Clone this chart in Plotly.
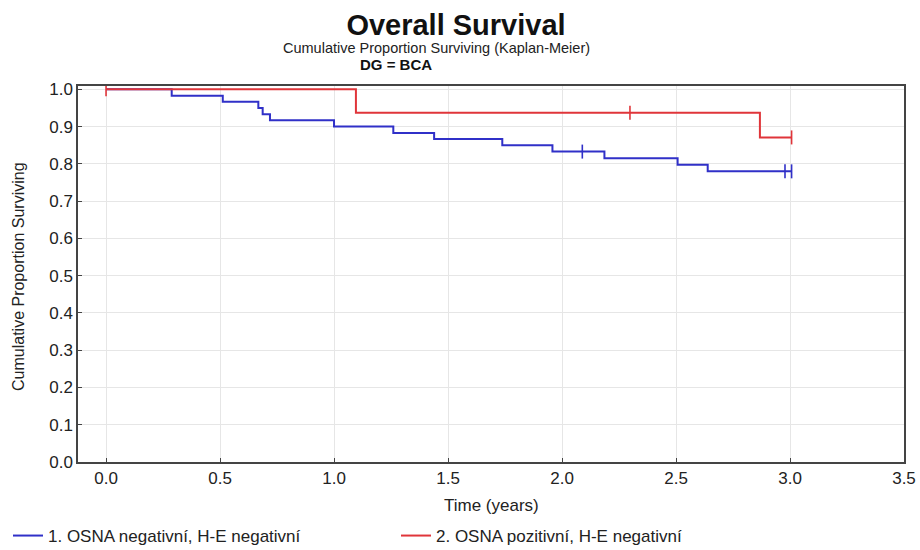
import plotly.graph_objects as go

# Group 1: OSNA negativní, H-E negativní
g1_times = [0.0, 0.288, 0.512, 0.668, 0.687, 0.719, 1.0, 1.26, 1.439, 1.738, 1.958, 2.186, 2.507, 2.639, 3.007]
g1_surv = [1.0, 0.983, 0.967, 0.950, 0.933, 0.917, 0.900, 0.883, 0.867, 0.850, 0.833, 0.815, 0.798, 0.780, 0.780]
g1_cens_t = [2.089, 2.978, 3.007]
g1_cens_s = [0.833, 0.780, 0.780]

# Group 2: OSNA pozitivní, H-E negativní
g2_times = [0.0, 1.096, 2.868, 3.007]
g2_surv = [1.0, 0.9375, 0.871, 0.871]
g2_cens_t = [0.0, 2.298, 3.007]
g2_cens_s = [1.0, 0.9375, 0.871]

names = ["1. OSNA negativní, H-E negativní", "2. OSNA pozitivní, H-E negativní"]
x_ticks = [0.0, 0.5, 1.0, 1.5, 2.0, 2.5, 3.0, 3.5]
y_ticks = [0.0, 0.1, 0.2, 0.3, 0.4, 0.5, 0.6, 0.7, 0.8, 0.9, 1.0]

BLUE = "#3030c8"
RED = "#e0353a"
FONT = "Liberation Sans, Arial, sans-serif"

# plot area in pixels (reference)
L, R, T, B = 78, 904, 86, 462
W, H = 920, 550
PW, PH = R - L, B - T

def px_x(px):
    return (px - L) / PW

def px_y(py):
    return (B - py) / PH

fig = go.Figure()
for t, s, ct, cs, col, nm in [
    (g1_times, g1_surv, g1_cens_t, g1_cens_s, BLUE, names[0]),
    (g2_times, g2_surv, g2_cens_t, g2_cens_s, RED, names[1]),
]:
    fig.add_trace(go.Scatter(x=t, y=s, mode="lines", line=dict(color=col, width=2, shape="hv"),
                             name=nm))
    fig.add_trace(go.Scatter(x=ct, y=cs, mode="markers", showlegend=False,
                             marker=dict(symbol="line-ns", size=10, line=dict(color=col, width=1.6))))

fig.update_layout(
    width=W, height=H,
    margin=dict(l=L, r=W - R, t=T, b=H - B, autoexpand=False),
    paper_bgcolor="white", plot_bgcolor="white",
    font=dict(family=FONT, color="#222"),
    title=dict(text="<b>Overall Survival</b>", x=456 / W, xanchor="center",
               y=1 - 25 / H, yanchor="middle",
               font=dict(size=29, color="#111", family=FONT)),
    annotations=[
        dict(text="Cumulative Proportion Surviving (Kaplan-Meier)", xref="paper", yref="paper",
             x=px_x(436), y=px_y(48), xanchor="center", yanchor="middle", showarrow=False,
             font=dict(size=14.5, color="#222", family=FONT)),
        dict(text="<b>DG = BCA</b>", xref="paper", yref="paper",
             x=px_x(396), y=px_y(65), xanchor="center", yanchor="middle", showarrow=False,
             font=dict(size=15, color="#111", family=FONT)),
        dict(text="Time (years)", xref="paper", yref="paper",
             x=px_x(491), y=px_y(505), xanchor="center", yanchor="middle", showarrow=False,
             font=dict(size=17, color="#222", family=FONT)),
        dict(text="Cumulative Proportion Surviving", xref="paper", yref="paper", textangle=-90,
             x=px_x(18), y=px_y(277), xanchor="center", yanchor="middle", showarrow=False,
             font=dict(size=16, color="#222", family=FONT)),
    ],
    showlegend=True,
    legend=dict(orientation="h", xref="container", yref="container",
                x=8 / W, xanchor="left", y=1 - 536 / H, yanchor="middle",
                font=dict(size=17, color="#222", family=FONT), entrywidth=343, entrywidthmode="pixels",
                itemwidth=30, bgcolor="rgba(0,0,0,0)"),
)
fig.update_xaxes(range=[-0.123, 3.5], tickvals=x_ticks, ticktext=[f"{v:.1f}" for v in x_ticks],
                 showgrid=True, gridcolor="#e6e6e6", gridwidth=1, zeroline=False,
                 showline=True, linecolor="#444", linewidth=1.5, mirror=True,
                 ticks="inside", ticklen=4, tickcolor="#444", automargin=False,
                 tickfont=dict(size=17, color="#222"))
fig.update_yaxes(range=[0, 1.009], tickvals=y_ticks, ticktext=[f"{v:.1f}" for v in y_ticks],
                 showgrid=True, gridcolor="#e6e6e6", gridwidth=1, zeroline=False,
                 showline=True, linecolor="#444", linewidth=1.5, mirror=True,
                 ticks="inside", ticklen=4, tickcolor="#444", automargin=False,
                 tickfont=dict(size=17, color="#222"))

fig.write_html("out.html", config={"displayModeBar": False},
               post_script="document.body.style.margin='0px';document.body.style.overflow='hidden';")
